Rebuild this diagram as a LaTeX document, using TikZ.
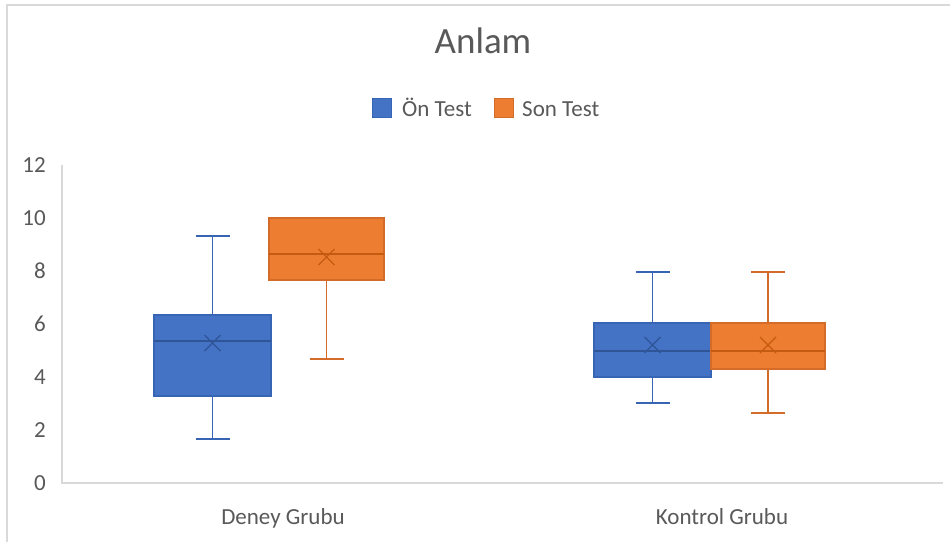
\documentclass[tikz,border=0pt]{standalone}
\usepackage{fontspec}
\setmainfont{Carlito}
\definecolor{txt}{HTML}{595959}
\definecolor{gridc}{HTML}{D9D9D9}
\definecolor{bfill}{HTML}{4472C4}
\definecolor{bline}{HTML}{3864B4}
\definecolor{bdark}{HTML}{2F5597}
\definecolor{ofill}{HTML}{ED7D31}
\definecolor{oline}{HTML}{D46B28}
\definecolor{odark}{HTML}{C55A11}
\newcommand\bxplot[9]{% color, x1, x2, q1(top), q3(bottom), median, whiskertop, whiskerbottom, mean
  \pgfmathsetmacro\cx{(#2+#3)/2}
  \draw[whisk, #1line] (\cx,#7) -- (\cx,#8);
  \draw[whisk, #1line] (\cx-17,#7) -- (\cx+17,#7);
  \draw[whisk, #1line] (\cx-17,#8) -- (\cx+17,#8);
  \filldraw[fill=#1fill, draw=#1line, line width=1.6pt] (#2,#4) rectangle (#3,#5);
  \draw[#1dark, line width=1.6pt] (#2,#6) -- (#3,#6);
  \draw[#1dark, line width=1.3pt] (\cx-8,#9-8) -- (\cx+8,#9+8) (\cx-8,#9+8) -- (\cx+8,#9-8);
}
\begin{document}
\begin{tikzpicture}[x=1pt,y=-1pt,
  frame/.style={draw=gridc, line width=2pt},
  axisline/.style={draw=gridc, line width=1.6pt},
  whisk/.style={line width=1.8pt},
  lbl/.style={text=txt, font=\fontsize{23}{26}\selectfont, inner sep=0pt}]
\useasboundingbox (0,0) rectangle (950,542);
\fill[white] (0,0) rectangle (950,542);
\draw[frame] (7,542) -- (7,5) -- (950,5);
% title
\node[text=txt, font=\fontsize{37}{40}\selectfont, anchor=base, inner sep=0pt] (title) at (483,53) {Anlam};
% legend
\fill[bfill, draw=bline, line width=1pt] (372,98) rectangle (391,117);
\node[lbl, anchor=base west] (l1) at (402,116) {Ön Test};
\fill[ofill, draw=oline, line width=1pt] (494,98) rectangle (513,117);
\node[lbl, anchor=base west] (l2) at (522,116) {Son Test};
% axes
\draw[axisline] (62,165) -- (62,483) -- (943,483);
\foreach \v in {0,2,...,12} {
  \node[lbl, anchor=east] (t\v) at (46,{483-26.5*\v}) {\v};
}
% x labels
\node[lbl, anchor=base] (g1) at (283,524) {Deney Grubu};
\node[lbl, anchor=base] (g2) at (722,524) {Kontrol Grubu};
% boxes
\bxplot{b}{154}{271}{315}{396}{341}{236}{439}{343}
\bxplot{o}{269}{384}{218}{280}{254}{218}{359}{257}
\bxplot{b}{594}{711}{323}{377}{351}{272}{403}{345}
\bxplot{o}{711}{825}{323}{369}{351}{272}{413}{345}
\end{tikzpicture}
\end{document}
